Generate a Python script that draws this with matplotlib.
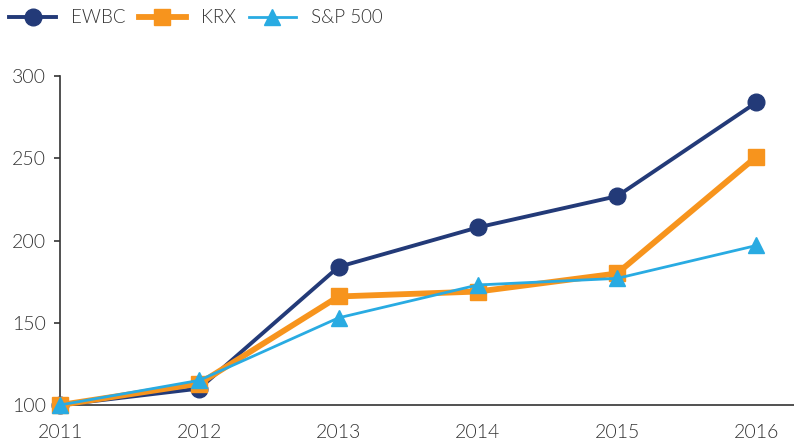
import matplotlib.pyplot as plt

years = [2011, 2012, 2013, 2014, 2015, 2016]
ewbc = [100, 110, 184, 208, 227, 284]
krx = [100, 113, 166, 169, 180, 251]
sp500 = [100, 115, 153, 173, 177, 197]

plt.rcParams['font.family'] = ['Lato', 'DejaVu Sans']
plt.rcParams['font.weight'] = 300

fig = plt.figure(figsize=(7.94, 4.45), dpi=100)
ax = fig.add_axes([0.0756, 0.0899, 0.9244, 0.739])

ax.plot(years, ewbc, '-o', color='#233a78', lw=2.8, ms=12, label='EWBC', zorder=3, clip_on=False)
ax.plot(years, krx, '-s', color='#f7941d', lw=4.2, ms=12, label='KRX', zorder=4, clip_on=False)
ax.plot(years, sp500, '-^', color='#29abe2', lw=2, ms=12, label='S&P 500', zorder=5, clip_on=False)

ax.set_xlim(2011, 2016.27)
ax.set_ylim(100, 300)
ax.set_yticks([100, 150, 200, 250, 300])
ax.set_xticks(years)
for s in ['top', 'right']:
    ax.spines[s].set_visible(False)
for s in ['left', 'bottom']:
    ax.spines[s].set_color('#333333')
    ax.spines[s].set_linewidth(1.2)
ax.tick_params(axis='y', length=4, width=1.2, color='#333333', labelsize=14, labelcolor='#333333', pad=6)
ax.tick_params(axis='x', length=0, labelsize=14, labelcolor='#333333', pad=14)

fig.legend(loc='upper left', bbox_to_anchor=(0.0, 1.0), borderaxespad=0.1, ncol=3, frameon=False,
           fontsize=13.5, labelcolor='#333333', handlelength=2.5, columnspacing=0.7,
           handletextpad=0.8)

fig.savefig('out.png', dpi=100)
